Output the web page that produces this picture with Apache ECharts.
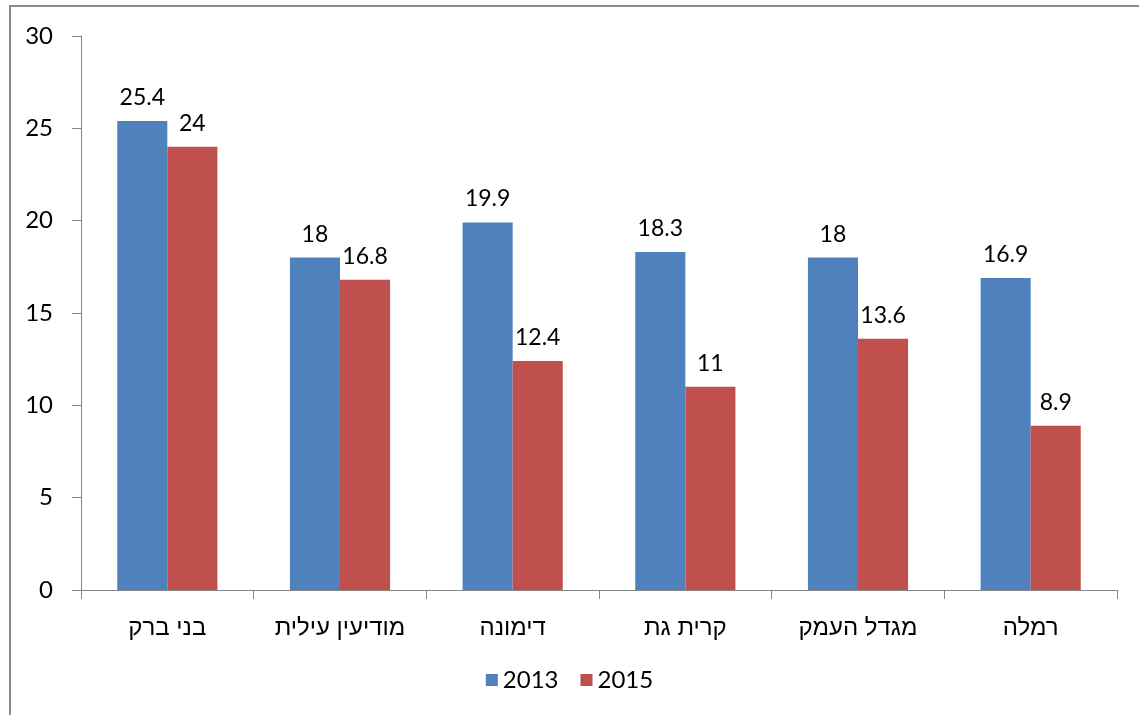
<!DOCTYPE html>
<html lang="he">
<head>
<meta charset="UTF-8">
<title>chart</title>
<script src="https://cdn.jsdelivr.net/npm/echarts@6/dist/echarts.min.js"></script>
</head>
<body style="margin:0;background:#fff">
<div id="frame" style="position:absolute;left:9px;top:5px;width:1135px;height:715px;border-top:2px solid #8c8c8c;border-left:2px solid #8c8c8c;box-sizing:border-box"></div>
<div id="chart" style="position:absolute;left:0;top:0;width:1139px;height:715px"></div>
<script>
// ערים
var cities = ['בני ברק', 'מודיעין עילית', 'דימונה', 'קרית גת', 'מגדל העמק', 'רמלה'];
var values2013 = [25.4, 18, 19.9, 18.3, 18, 16.9];
var values2015 = [24, 16.8, 12.4, 11, 13.6, 8.9];
var seriesNames = ['2013', '2015'];

var numFont = 'Lato, "Liberation Sans", sans-serif';
var hebFont = '"Liberation Sans", "DejaVu Sans", sans-serif';

var myChart = echarts.init(document.getElementById('chart'));

function barLabel() {
    return {
        show: true,
        position: 'top',
        distance: 12,
        color: '#000',
        fontSize: 23,
        fontFamily: numFont
    };
}

var option = {
    animation: false,
    grid: { left: 81, right: 22, top: 36, bottom: 125 },
    legend: {
        data: seriesNames,
        bottom: 18,
        left: 'center',
        itemWidth: 12,
        itemHeight: 12,
        itemGap: 22,
        icon: 'rect',
        textStyle: { color: '#000', fontSize: 24, fontFamily: numFont }
    },
    xAxis: {
        type: 'category',
        data: cities,
        axisLine: { lineStyle: { color: '#868686', width: 1 } },
        axisTick: { show: true, length: 9, lineStyle: { color: '#868686' } },
        axisLabel: { color: '#000', fontSize: 24, fontFamily: hebFont, margin: 26 }
    },
    yAxis: {
        type: 'value',
        min: 0,
        max: 30,
        interval: 5,
        splitLine: { show: false },
        axisLine: { show: true, lineStyle: { color: '#868686', width: 1 } },
        axisTick: { show: true, length: 9, lineStyle: { color: '#868686' } },
        axisLabel: { color: '#000', fontSize: 24, fontFamily: numFont, margin: 28 }
    },
    series: [
        {
            name: seriesNames[0],
            type: 'bar',
            data: values2013,
            barGap: '0%',
            barCategoryGap: '42%',
            itemStyle: { color: '#4F81BD' },
            label: barLabel()
        },
        {
            name: seriesNames[1],
            type: 'bar',
            data: values2015,
            barGap: '0%',
            barCategoryGap: '42%',
            itemStyle: { color: '#C0504D' },
            label: barLabel()
        }
    ]
};
myChart.setOption(option);
</script>
</body>
</html>
